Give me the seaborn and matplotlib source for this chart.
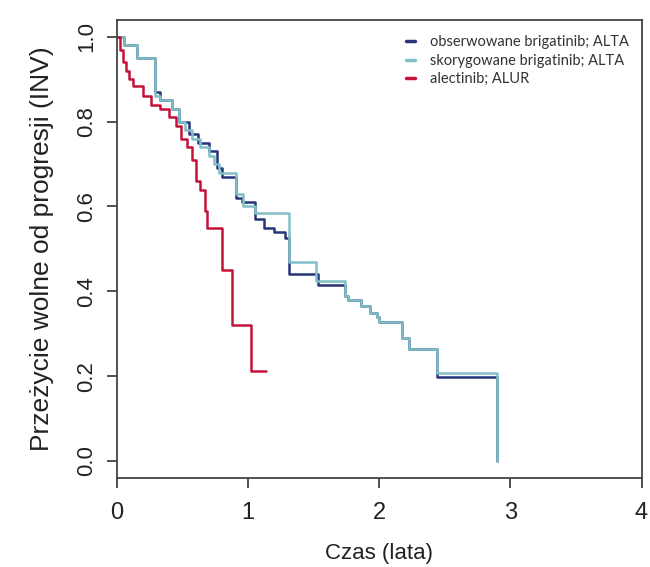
import matplotlib
matplotlib.use("Agg")
import matplotlib.pyplot as plt
import seaborn as sns
import pandas as pd

# Observed brigatinib (ALTA)
obs_t = [0, 0.05, 0.15, 0.29, 0.33, 0.42, 0.47, 0.55, 0.62, 0.70, 0.76, 0.80, 0.91, 0.95,
         1.05, 1.12, 1.20, 1.28, 1.31, 1.53, 1.74, 1.76, 1.86, 1.93, 1.98, 2.00, 2.17, 2.23, 2.44, 2.90]
obs_s = [1.0, 0.98, 0.95, 0.87, 0.85, 0.83, 0.80, 0.77, 0.75, 0.73, 0.69, 0.67, 0.62, 0.61,
         0.57, 0.55, 0.54, 0.525, 0.44, 0.415, 0.39, 0.38, 0.365, 0.35, 0.34, 0.327, 0.29, 0.265, 0.198, 0.0]

# Adjusted brigatinib (ALTA)
adj_t = [0, 0.05, 0.15, 0.29, 0.33, 0.42, 0.47, 0.52, 0.57, 0.63, 0.70, 0.74, 0.78, 0.91, 0.96,
         1.05, 1.31, 1.52, 1.74, 1.76, 1.86, 1.93, 1.98, 2.00, 2.17, 2.23, 2.44, 2.90]
adj_s = [1.0, 0.98, 0.95, 0.86, 0.85, 0.83, 0.80, 0.78, 0.76, 0.74, 0.72, 0.70, 0.68, 0.63, 0.60,
         0.585, 0.47, 0.425, 0.39, 0.38, 0.365, 0.35, 0.34, 0.327, 0.29, 0.265, 0.208, 0.0]

# Alectinib (ALUR)
ale_t = [0, 0.02, 0.045, 0.07, 0.09, 0.12, 0.20, 0.26, 0.33, 0.40, 0.45, 0.49, 0.53, 0.57,
         0.60, 0.63, 0.67, 0.69, 0.80, 0.88, 1.02, 1.14]
ale_s = [1.0, 0.97, 0.94, 0.92, 0.90, 0.885, 0.86, 0.84, 0.83, 0.81, 0.79, 0.76, 0.74, 0.71,
         0.66, 0.64, 0.59, 0.55, 0.45, 0.32, 0.213, 0.213]

labels = ["obserwowane brigatinib; ALTA", "skorygowane brigatinib; ALTA", "alectinib; ALUR"]
colors = ["#26347a", "#80bfc6", "#c3123a"]
x_ticks = [0, 1, 2, 3, 4]
y_ticks = [0.0, 0.2, 0.4, 0.6, 0.8, 1.0]

sns.set_style("ticks")
plt.rcParams['font.family'] = ['Liberation Sans', 'DejaVu Sans']

fig = plt.figure(figsize=(6.5, 5.67), dpi=100)
ax = fig.add_axes([0.18, 0.157, 0.807, 0.808])

series = [(obs_t, obs_s), (adj_t, adj_s), (ale_t, ale_s)]
for (t, s), lab, col in zip(series, labels, colors):
    df = pd.DataFrame({"t": t, "s": s})
    sns.lineplot(data=df, x="t", y="s", ax=ax, estimator=None, sort=False,
                 drawstyle="steps-post", color=col, linewidth=1.8, label=lab)

ax.set_xlim(0, 4)
ax.set_ylim(-0.04, 1.04)
ax.set_xticks(x_ticks)
ax.set_xticklabels([str(v) for v in x_ticks], fontsize=17)
ax.set_yticks(y_ticks)
ax.set_yticklabels([f"{v:.1f}" for v in y_ticks], fontsize=16, rotation=90, va="center")
ax.tick_params(axis="x", length=7, width=1.2, color="#333333", labelcolor="#222222", pad=10)
ax.tick_params(axis="y", length=7, width=1.2, color="#333333", labelcolor="#222222", pad=7)
ax.set_xlabel("Czas (lata)", fontsize=16, color="#222222", labelpad=14)
ax.set_ylabel("Przeżycie wolne od progresji (INV)", fontsize=19, color="#222222", labelpad=16)
for sp in ax.spines.values():
    sp.set_color("#444444")
    sp.set_linewidth(1.3)

leg = ax.legend(loc="upper right", bbox_to_anchor=(1.0, 0.995), frameon=False,
                handlelength=0.6, handletextpad=1.0, labelspacing=0.3,
                prop={"family": ["Lato", "DejaVu Sans"], "size": 10.5})
for txt in leg.get_texts():
    txt.set_color("#333333")
for h in leg.get_lines():
    h.set_linewidth(2.5)

fig.savefig("out.png", dpi=100)
